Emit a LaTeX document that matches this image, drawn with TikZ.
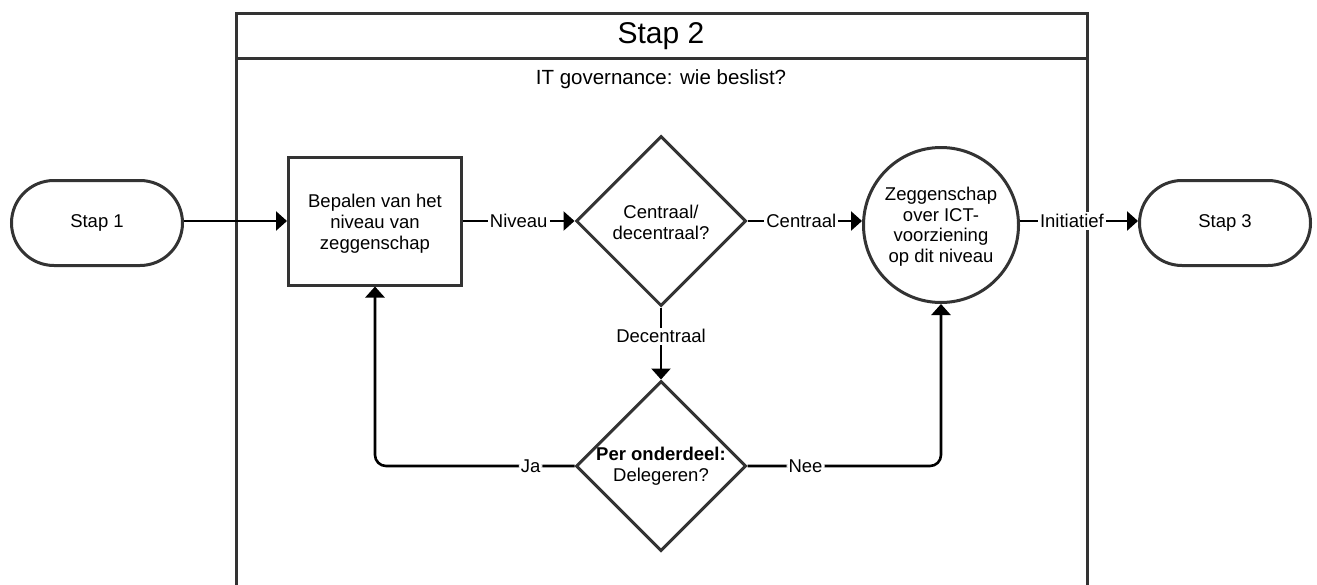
\documentclass[tikz,border=0pt]{standalone}
\usepackage{fontspec}
\setmainfont{Liberation Sans}[BoldFont={Liberation Sans Bold}]
\usetikzlibrary{shapes.geometric,shapes.misc,arrows.meta}

\definecolor{edge}{HTML}{333333}

\tikzset{
  shapebox/.style={draw=edge, line width=3pt, fill=white, align=center,
    font=\fontsize{18.5}{21}\selectfont, inner sep=0pt},
  terminal/.style={shapebox, rounded rectangle, minimum width=171pt, minimum height=85pt},
  processbox/.style={shapebox, rectangle, minimum width=173pt, minimum height=128pt},
  decision/.style={shapebox, diamond, aspect=1, minimum width=170pt, minimum height=170pt},
  statecircle/.style={shapebox, circle, minimum size=155pt, font=\fontsize{18.5}{20.5}\selectfont},
  flow/.style={line width=2.6pt, black, -{Triangle[length=11pt,width=19pt]}},
  loop/.style={flow, rounded corners=11pt},
  flowlabel/.style={fill=white, inner sep=2pt, font=\fontsize{18.5}{21}\selectfont},
  frameline/.style={draw=edge, line width=3pt}
}

\begin{document}
\begin{tikzpicture}[x=1pt, y=-1pt]
  \useasboundingbox (0,0) rectangle (1317,584);

  % swimlane frame for step 2 (open at the bottom)
  \draw[frameline] (236,590) -- (236,13) -- (1087,13) -- (1087,590);
  \draw[frameline] (236,58) -- (1087,58);
  \node[font=\fontsize{30}{34}\selectfont] (lanetitle) at (661,36) {Stap 2};
  \node[font=\fontsize{20.5}{24}\selectfont] (lanesub) at (661,79) {IT governance: wie beslist?};

  % shapes
  \node[terminal] (stap1) at (97,223) {Stap 1};
  \node[processbox] (bepalen) at (375,221) {\rule{0pt}{18pt}Bepalen van het\\niveau van\\zeggenschap};
  \node[decision] (centraal) at (661,221) {\rule{0pt}{17pt}Centraal/\\decentraal?};
  \node[statecircle] (zegg) at (941,225) {\rule{0pt}{17pt}Zeggenschap\\over ICT-\\voorziening\\op dit niveau};
  \node[terminal] (stap3) at (1225,223) {Stap 3};
  \node[decision] (deleg) at (661,466) {\textbf{Per onderdeel:}\\Delegeren?};

  % connectors
  \draw[flow] (stap1.east |- bepalen.west) -- (bepalen.west);
  \draw[flow] (bepalen.east) -- node[flowlabel, pos=0.5] (lniveau) {Niveau} (centraal.west);
  \draw[flow] (centraal.east) -- node[flowlabel, pos=0.47] (lcentraal) {Centraal} (zegg.west |- centraal.east);
  \draw[flow] (zegg.east |- centraal.east) -- node[flowlabel, pos=0.44] (linit) {Initiatief} (stap3.west |- centraal.east);
  \draw[flow] (centraal.south) -- node[flowlabel, pos=0.4] (ldecentraal) {Decentraal} (deleg.north);
  \draw[loop] (deleg.west) -| node[flowlabel, pos=0.11] (lja) {Ja} (bepalen.south);
  \draw[loop] (deleg.east) -| node[flowlabel, pos=0.15] (lnee) {Nee} (zegg.south);
\end{tikzpicture}
\end{document}
